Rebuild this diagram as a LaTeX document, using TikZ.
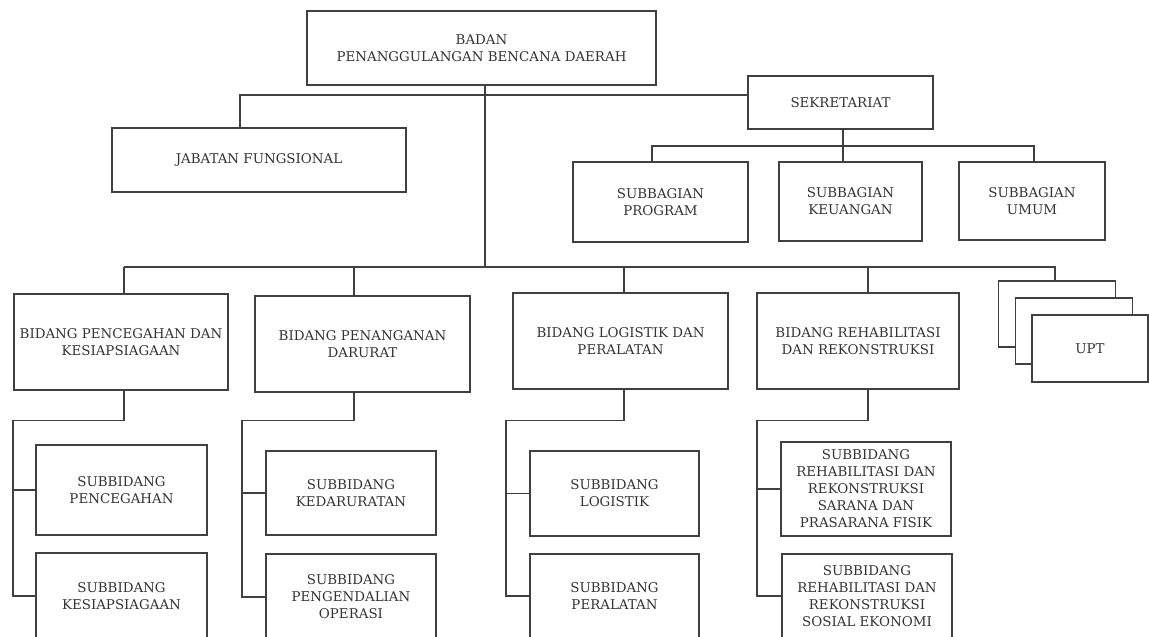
\documentclass[tikz,border=0pt]{standalone}
\usepackage{fontspec}
\setmainfont{DejaVu Serif}
\usepackage{tikz}

\begin{document}
\begin{tikzpicture}[x=1pt, y=-1pt, font=\fontsize{13.4}{17}\selectfont,
    unit/.style={draw=black!75, line width=1.1pt, text=black!80,
      align=center, inner sep=2pt},
    stack/.style={unit, fill=white, minimum width=117pt,
      minimum height=66pt},
    link/.style={draw=black!75, line width=1.1pt} ]

    \useasboundingbox (0,0) rectangle (1149,637);

    % pimpinan dan sekretariat
    \node[unit, minimum width=349pt, minimum height=74pt] (badan) at
    (481.5,48) {BADAN\\PENANGGULANGAN BENCANA DAERAH};
    \node[unit, minimum width=294pt, minimum height=64pt] (jabatan) at
    (259,160) {JABATAN FUNGSIONAL};
    \node[unit, minimum width=185pt, minimum height=53pt] (sekretariat) at
    (840.5,102.5) {SEKRETARIAT};

    \node[unit, minimum width=175pt, minimum height=80pt] (sbprogram) at
    (660.5,202) {SUBBAGIAN\\PROGRAM};
    \node[unit, minimum width=143pt, minimum height=79pt] (sbkeuangan) at
    (850.5,201.5) {SUBBAGIAN\\KEUANGAN};
    \node[unit, minimum width=146pt, minimum height=78pt] (sbumum) at
    (1032,201) {SUBBAGIAN\\UMUM};

    % bidang
    \node[unit, minimum width=214pt, minimum height=96pt] (bid1) at
    (121,342) {BIDANG PENCEGAHAN DAN\\KESIAPSIAGAAN};
    \node[unit, minimum width=215pt, minimum height=96pt] (bid2) at
    (362.5,344) {BIDANG PENANGANAN\\DARURAT};
    \node[unit, minimum width=215pt, minimum height=96pt] (bid3) at
    (620.5,341) {BIDANG LOGISTIK DAN\\PERALATAN};
    \node[unit, minimum width=202pt, minimum height=96pt] (bid4) at
    (858,341) {BIDANG REHABILITASI\\DAN REKONSTRUKSI};

    % subbidang
    \node[unit, minimum width=171pt, minimum height=90pt] (suba1) at
    (121.5,490) {SUBBIDANG\\PENCEGAHAN};
    \node[unit, minimum width=171pt, minimum height=86pt] (subb1) at
    (121.5,596) {SUBBIDANG\\KESIAPSIAGAAN};
    \node[unit, minimum width=170pt, minimum height=84pt] (suba2) at
    (351,493) {SUBBIDANG\\KEDARURATAN};
    \node[unit, minimum width=170pt, minimum height=86pt] (subb2) at
    (351,597) {SUBBIDANG\\PENGENDALIAN\\OPERASI};
    \node[unit, minimum width=169pt, minimum height=85pt] (suba3) at
    (614.5,493.5) {SUBBIDANG\\LOGISTIK};
    \node[unit, minimum width=169pt, minimum height=84pt] (subb3) at
    (614.5,596) {SUBBIDANG\\PERALATAN};
    \node[unit, minimum width=170pt, minimum height=94pt] (suba4) at
    (866,489) {SUBBIDANG\\REHABILITASI DAN\\REKONSTRUKSI\\SARANA DAN\\PRASARANA FISIK};
    \node[unit, minimum width=170pt, minimum height=84pt] (subb4) at
    (867,596) {SUBBIDANG\\REHABILITASI DAN\\REKONSTRUKSI\\SOSIAL EKONOMI};

    % UPT bertumpuk
    \node[stack] (uptback) at (1057,314) {};
    \node[stack] (uptmid) at (1074,331) {};
    \node[stack, minimum width=116pt, minimum height=67pt] (upt) at
    (1090,348.5) {UPT};

    % garis
    \coordinate (trunk) at (485,267);
    \draw[link] (badan.south -| trunk) -- (trunk);
    \draw[link] ([xshift=-19pt]jabatan.north) |- ([yshift=7.5pt]sekretariat.west);

    \coordinate (sbus) at (843,146);
    \draw[link] (sekretariat.south -| sbus) -- (sbkeuangan.north -| sbus);
    \draw[link] ([xshift=-8.5pt]sbprogram.north) |- (sbus)
    -| ([xshift=2pt]sbumum.north);

    \coordinate (drop5) at (1055,267);
    \foreach \i/\dx/\sx in {1/124/13, 2/354/242, 3/624/506, 4/868/757} {
      \coordinate (drop\i) at (\dx,267);
      \coordinate (spine\i) at (\sx,420.5);
      \draw[link] (drop\i) -- (drop\i |- bid\i.north);
      \draw[link] (drop\i |- bid\i.south) |- (spine\i) |- (subb\i.west);
      \draw[link] (spine\i |- suba\i.west) -- (suba\i.west);
    }
    \draw[link] (drop1) -- (drop5) -- (drop5 |- uptback.north);

  \end{tikzpicture}
\end{document}
